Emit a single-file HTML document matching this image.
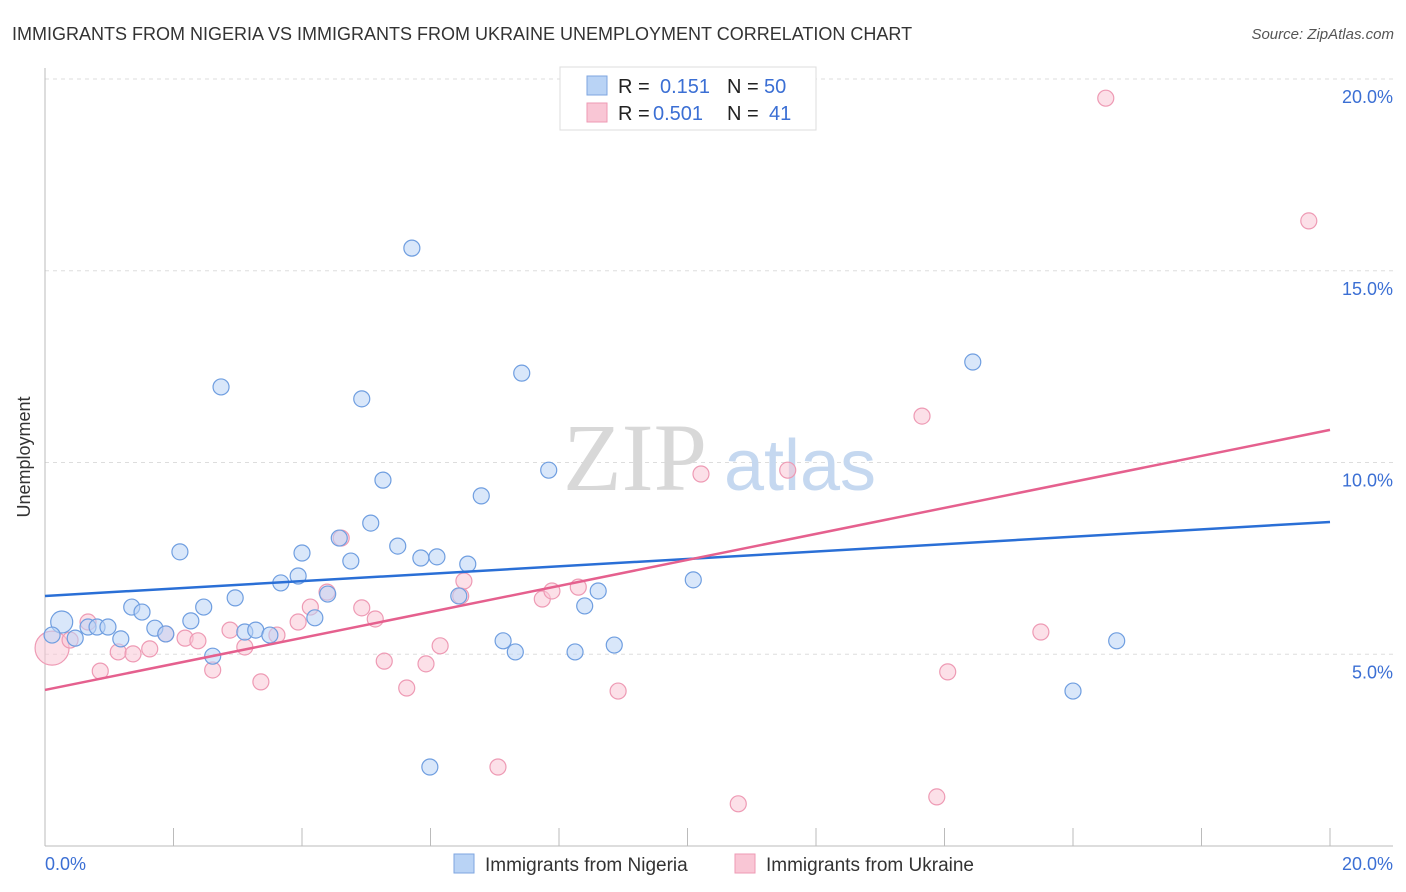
<!DOCTYPE html>
<html><head><meta charset="utf-8"><style>
body{margin:0;background:#fff;font-family:"Liberation Sans",sans-serif;}
svg{display:block}
</style></head><body>
<svg id="chart" width="1406" height="892" xmlns="http://www.w3.org/2000/svg">
<text x="12" y="40" font-size="18" fill="#333">IMMIGRANTS FROM NIGERIA VS IMMIGRANTS FROM UKRAINE UNEMPLOYMENT CORRELATION CHART</text>
<text x="1394" y="39" font-size="15" fill="#555" font-style="italic" text-anchor="end">Source: ZipAtlas.com</text>
<g id="grid"></g>
<g>
<text x="635" y="490" font-size="96" font-family="Liberation Serif,serif" fill="#d8d8d8" text-anchor="middle">ZIP</text>
<text x="800" y="490" font-size="72" fill="#c5d8f0" text-anchor="middle">atlas</text>
</g>
<line x1="45" y1="68" x2="45" y2="846" stroke="#bbb"/>
<line x1="45" y1="846" x2="1393" y2="846" stroke="#bbb"/>
<text x="30" y="457" font-size="18" fill="#333" transform="rotate(-90 30 457)" text-anchor="middle">Unemployment</text>
<text x="45" y="870" font-size="18" fill="#3b6fd4">0.0%</text>
<text x="1393" y="870" font-size="18" fill="#3b6fd4" text-anchor="end">20.0%</text>
<g id="marks"></g>
<g>
<rect x="560" y="67" width="256" height="63" fill="#fff" stroke="#ddd"/>
<rect x="587" y="76" width="20" height="19" fill="#b9d3f5" stroke="#7ea6e0"/>
<rect x="587" y="103" width="20" height="19" fill="#f9c6d5" stroke="#ee9ab4"/>
<text x="618" y="93" font-size="20" fill="#222">R = </text><text x="660" y="93" font-size="20" fill="#3b6fd4">0.151</text>
<text x="727" y="93" font-size="20" fill="#222">N = </text><text x="764" y="93" font-size="20" fill="#3b6fd4">50</text>
<text x="618" y="120" font-size="20" fill="#222">R = </text><text x="653" y="120" font-size="20" fill="#3b6fd4">0.501</text>
<text x="727" y="120" font-size="20" fill="#222">N = </text><text x="769" y="120" font-size="20" fill="#3b6fd4">41</text>
</g>
<g>
<rect x="454" y="854" width="20" height="19" fill="#b9d3f5" stroke="#7ea6e0"/>
<text x="485" y="871" font-size="19" fill="#333">Immigrants from Nigeria</text>
<rect x="735" y="854" width="20" height="19" fill="#f9c6d5" stroke="#ee9ab4"/>
<text x="766" y="871" font-size="19" fill="#333">Immigrants from Ukraine</text>
</g>
</svg>
<script>
const yTicks=[5,10,15,20];
const yTickLabels=["5.0%","10.0%","15.0%","20.0%"];
const xTickVals=[0,2,4,6,8,10,12,14,16,18,20];
const nigeriaX=[0.26,0.11,0.47,0.67,0.81,0.98,1.18,1.35,1.51,1.71,1.88,2.10,2.27,2.47,2.61,2.74,2.96,3.11,3.28,3.50,3.67,3.94,4.00,4.20,4.40,4.58,4.76,4.93,5.07,5.26,5.49,5.71,5.85,6.10,6.44,6.58,6.79,7.13,7.32,7.42,7.84,8.25,8.40,8.61,8.86,10.09,14.44,16.00,16.68,5.99];
const nigeriaY=[5.84,5.50,5.42,5.71,5.71,5.71,5.40,6.23,6.10,5.68,5.53,7.67,5.87,6.23,4.95,11.97,6.47,5.58,5.63,5.50,6.86,7.04,7.64,5.95,6.57,8.03,7.43,11.66,8.42,9.54,7.82,15.59,7.51,7.54,6.52,7.35,9.13,5.35,5.06,12.33,9.80,5.06,6.26,6.65,5.24,6.94,12.62,4.04,5.35,2.06];
const ukraineX=[0.11,0.39,0.67,0.86,1.14,1.37,1.63,1.88,2.18,2.38,2.61,2.88,3.11,3.36,3.61,3.94,4.13,4.39,4.61,4.93,5.14,5.28,5.63,5.93,6.15,6.47,6.52,7.05,7.74,7.89,8.30,8.92,10.21,10.79,11.56,13.65,13.88,14.05,15.50,16.51,19.67];
const ukraineY=[5.16,5.37,5.84,4.56,5.06,5.01,5.14,5.53,5.42,5.35,4.59,5.63,5.19,4.28,5.50,5.84,6.23,6.62,8.03,6.21,5.92,4.82,4.12,4.75,5.22,6.52,6.91,2.06,6.44,6.65,6.75,4.04,9.70,1.10,9.80,11.21,1.28,4.54,5.58,19.50,16.30];
const nigeriaTrend=[6.52,8.45];
const ukraineTrend=[4.07,10.85];
const NS="http://www.w3.org/2000/svg";
const xs=v=>45+v/20*1285;
const ys=v=>846-v*38.35;
const grid=document.getElementById('grid');
const marks=document.getElementById('marks');
function mk(tag,attrs,parent){const e=document.createElementNS(NS,tag);for(const k in attrs)e.setAttribute(k,attrs[k]);parent.appendChild(e);return e;}
yTicks.forEach((t,i)=>{
  const l=mk('line',{x1:45,x2:1393,y1:ys(t),y2:ys(t),stroke:'#ddd','stroke-dasharray':'4,4'},grid);
  
  
  const tx=mk('text',{x:1393,y:ys(t)+24,'font-size':18,fill:'#3b6fd4','text-anchor':'end'},grid);
  tx.textContent=yTickLabels[i];
  
  
});
xTickVals.forEach(t=>{
  const l=mk('line',{x1:xs(t),x2:xs(t),y1:828,y2:846,stroke:'#bbb'},grid);
  
  
});
function pts(X,Y,fill,stroke,name,bigR){
  X.forEach((x,i)=>{
    const c=mk('circle',{cx:xs(x),cy:ys(Y[i]),r:i===0?bigR:8,fill:fill,'fill-opacity':0.55,stroke:stroke,'stroke-width':1.2},marks);
    
    
  });
}
pts(ukraineX,ukraineY,'#f9c6d5','#ee9ab4','ukraine-point',17);
pts(nigeriaX,nigeriaY,'#b9d3f5','#6f9ee0','nigeria-point',11);
const t1=mk('line',{x1:xs(0),y1:ys(nigeriaTrend[0]),x2:xs(20),y2:ys(nigeriaTrend[1]),stroke:'#2a6fd6','stroke-width':2.5},marks);


const t2=mk('line',{x1:xs(0),y1:ys(ukraineTrend[0]),x2:xs(20),y2:ys(ukraineTrend[1]),stroke:'#e5608e','stroke-width':2.5},marks);


</script>
</body></html>
